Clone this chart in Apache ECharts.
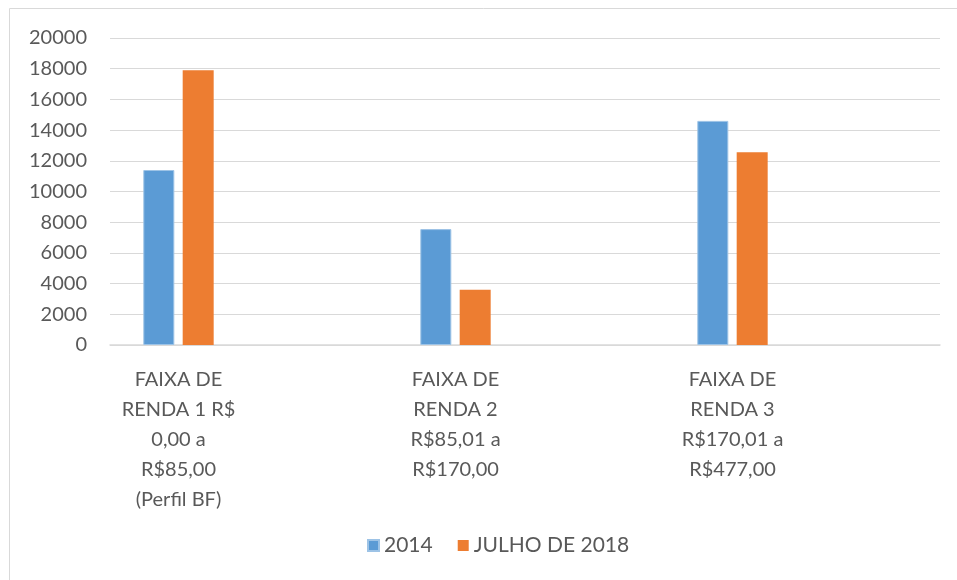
<!DOCTYPE html>
<html>
<head>
<meta charset="utf-8">
<script src="https://cdn.jsdelivr.net/npm/echarts@6/dist/echarts.min.js"></script>
<style>
  html, body { margin: 0; padding: 0; background: #fff; }
  #chart { width: 957px; height: 580px; }
</style>
</head>
<body>
<div id="chart"></div>
<script>
const categories = [
  'FAIXA DE\nRENDA 1 R$\n0,00 a\nR$85,00\n(Perfil BF)',
  'FAIXA DE\nRENDA 2\nR$85,01 a\nR$170,00',
  'FAIXA DE\nRENDA 3\nR$170,01 a\nR$477,00'
]
const seriesNames = ['2014', 'JULHO DE 2018']
const values2014 = [11400, 7550, 14600]
const valuesJul2018 = [17900, 3600, 12550]
const colors = ['#5b9bd5', '#ed7d31']

const font = 'Lato'
const textColor = '#595959'
const lineColor = '#d9d9d9'

const chart = echarts.init(document.getElementById('chart'))

const option = {
  animation: false,
  textStyle: { fontFamily: font },
  graphic: [{
    type: 'rect',
    shape: { x: 9.5, y: 8.5, width: 960, height: 590 },
    style: { fill: 'none', stroke: lineColor, lineWidth: 1 },
    silent: true
  }],
  legend: {
    data: seriesNames,
    bottom: 19,
    left: 362,
    itemWidth: 11,
    itemHeight: 11,
    itemGap: 25,
    icon: 'rect',
    textStyle: { fontFamily: font, fontSize: 21, color: textColor }
  },
  grid: [
    // gridlines and value labels
    { left: 110, right: 17, top: 38, bottom: 235 },
    // bars and category labels
    { left: 40, right: 86, top: 38, bottom: 235 }
  ],
  xAxis: [
    {
      gridIndex: 0,
      type: 'category',
      data: categories.map(() => ''),
      axisLine: { show: true, lineStyle: { color: lineColor, width: 1.5 } },
      axisTick: { show: false },
      axisLabel: { show: false }
    },
    {
      gridIndex: 1,
      type: 'category',
      data: categories,
      axisLine: { show: false },
      axisTick: { show: false },
      axisLabel: {
        interval: 0,
        margin: 20,
        fontFamily: font,
        fontSize: 20,
        lineHeight: 30,
        color: textColor,
        align: 'center'
      }
    }
  ],
  yAxis: [
    {
      gridIndex: 0,
      type: 'value',
      min: 0,
      max: 20000,
      interval: 2000,
      axisLine: { show: false },
      axisTick: { show: false },
      axisLabel: {
        margin: 23,
        fontFamily: font,
        fontSize: 20,
        color: textColor,
        formatter: v => String(v)
      },
      splitLine: { show: true, lineStyle: { color: lineColor, width: 1 } }
    },
    {
      gridIndex: 1,
      type: 'value',
      min: 0,
      max: 20000,
      interval: 2000,
      show: false,
      splitLine: { show: false }
    }
  ],
  series: [
    {
      name: seriesNames[0],
      type: 'bar',
      xAxisIndex: 1,
      yAxisIndex: 1,
      data: values2014,
      barWidth: 31,
      barGap: '27%',
      itemStyle: { color: colors[0], borderColor: '#9dc3e6', borderWidth: 1 }
    },
    {
      name: seriesNames[1],
      type: 'bar',
      xAxisIndex: 1,
      yAxisIndex: 1,
      data: valuesJul2018,
      barWidth: 31,
      barGap: '27%',
      itemStyle: { color: colors[1] }
    }
  ]
}

chart.setOption(option)
</script>
</body>
</html>
